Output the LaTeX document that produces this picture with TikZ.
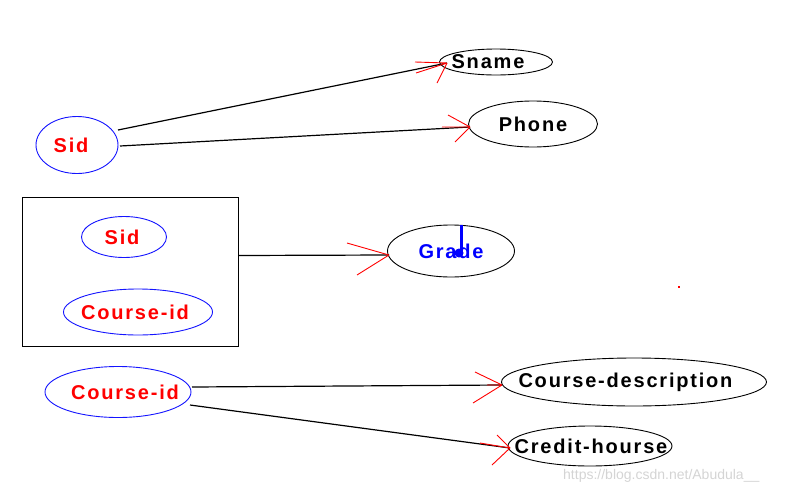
\documentclass[tikz,border=0pt]{standalone}
\usepackage{fontspec}
\setmainfont{Liberation Sans}
\newfontfamily\lblfont{Liberation Sans}[LetterSpace=9]
\usetikzlibrary{shapes.geometric,calc}
\definecolor{wmgray}{RGB}{212,212,212}
\definecolor{eblue}{RGB}{20,20,255}
\newcommand\lbltext[2][0pt]{\makebox[0pt]{\kern#1#2}}
\begin{document}
\begin{tikzpicture}[x=1pt,y=-1pt,
 attr/.style={ellipse,draw=black,line width=0.9pt,inner sep=0pt,font=\lblfont\bfseries\fontsize{20}{22}\selectfont},
 keyattr/.style={attr,draw=eblue,text=red},
 link/.style={draw=black,line width=1.2pt},
 head/.style={draw=red,line width=0.9pt}]
\useasboundingbox (0,0) rectangle (795,493);

% nodes
\node[attr,minimum width=113pt,minimum height=26pt] (sname) at (496,62) {\lbltext[-16pt]{Sname}};
\node[attr,minimum width=129pt,minimum height=46pt] (phone) at (533,124) {\lbltext{Phone}};
\node[keyattr,minimum width=82pt,minimum height=57pt] (sid) at (77,145) {\lbltext[-12pt]{Sid}};
\node[draw=black,line width=1pt,minimum width=216pt,minimum height=149pt,inner sep=0pt] (box) at (130,271.5) {};
\node[keyattr,minimum width=85pt,minimum height=41pt] (sidin) at (124,237) {\lbltext[-4pt]{Sid}};
\node[keyattr,minimum width=149pt,minimum height=46pt] (cidin) at (138,312) {\lbltext[-6pt]{Course-id}};
\node[attr,minimum width=127pt,minimum height=52pt,text=blue] (grade) at (451,251) {\lbltext{Grade}};
\node[keyattr,minimum width=146pt,minimum height=51pt] (cid) at (118,392) {\lbltext[14pt]{Course-id}};
\node[attr,minimum width=265pt,minimum height=48pt] (cdesc) at (634,382) {\lbltext[-17pt]{Course-description}};
\node[attr,minimum width=164pt,minimum height=40pt] (credit) at (590,446) {\lbltext[2pt]{Credit-hourse}};

% tips
\coordinate (tS) at ($(sname.center)+(-49,1)$);
\coordinate (tP) at ($(phone.center)+(-63,3)$);
\coordinate (tG) at ($(grade.center)+(-62,4)$);
\coordinate (tD) at ($(cdesc.center)+(-132,3)$);
\coordinate (tC) at ($(credit.center)+(-80,2)$);

% shafts
\draw[link] ($(sid.center)+(41,-15)$) -- (tS);
\draw[link] ($(sid.center)+(43,1)$) -- (tP);
\draw[link] ($(box.north east)+(0,59)$) -- (tG);
\draw[link] ($(cid.center)+(74,-5)$) -- (tD);
\draw[link] ($(cid.center)+(72,13)$) -- (tC);

% red hand-drawn heads
\draw[head] (tS) -- ++(-32,-1) (tS) -- ++(-31,10) (tS) -- ++(-10,20);
\draw[head] (tP) -- ++(-22,-12) (tP) -- ++(-28,0) (tP) -- ++(-15,15);
\draw[head] (tG) -- ++(-42,-12) (tG) -- ++(-32,20);
\draw[head] (tD) -- ++(-27,-13) (tD) -- ++(-15,0) (tD) -- ++(-29,18);
\draw[head] (tC) -- ++(-13,-13) (tC) -- ++(-30,-5) (tC) -- ++(-18,17);

% blue mark on Grade
\draw[blue,line width=3pt] ($(grade.center)+(10,-26)$) -- ($(grade.center)+(10,1)$);
\fill[blue] ($(grade.center)+(8,2)$) circle (4.5);

% stray red dot
\fill[red] (678,286) rectangle (680,288);

% watermark
\node[anchor=west,text=wmgray,font=\fontsize{14}{16}\selectfont,inner sep=0pt] (wm) at (563,476) {https://blog.csdn.net/Abudula\_\_};
\end{tikzpicture}
\end{document}
